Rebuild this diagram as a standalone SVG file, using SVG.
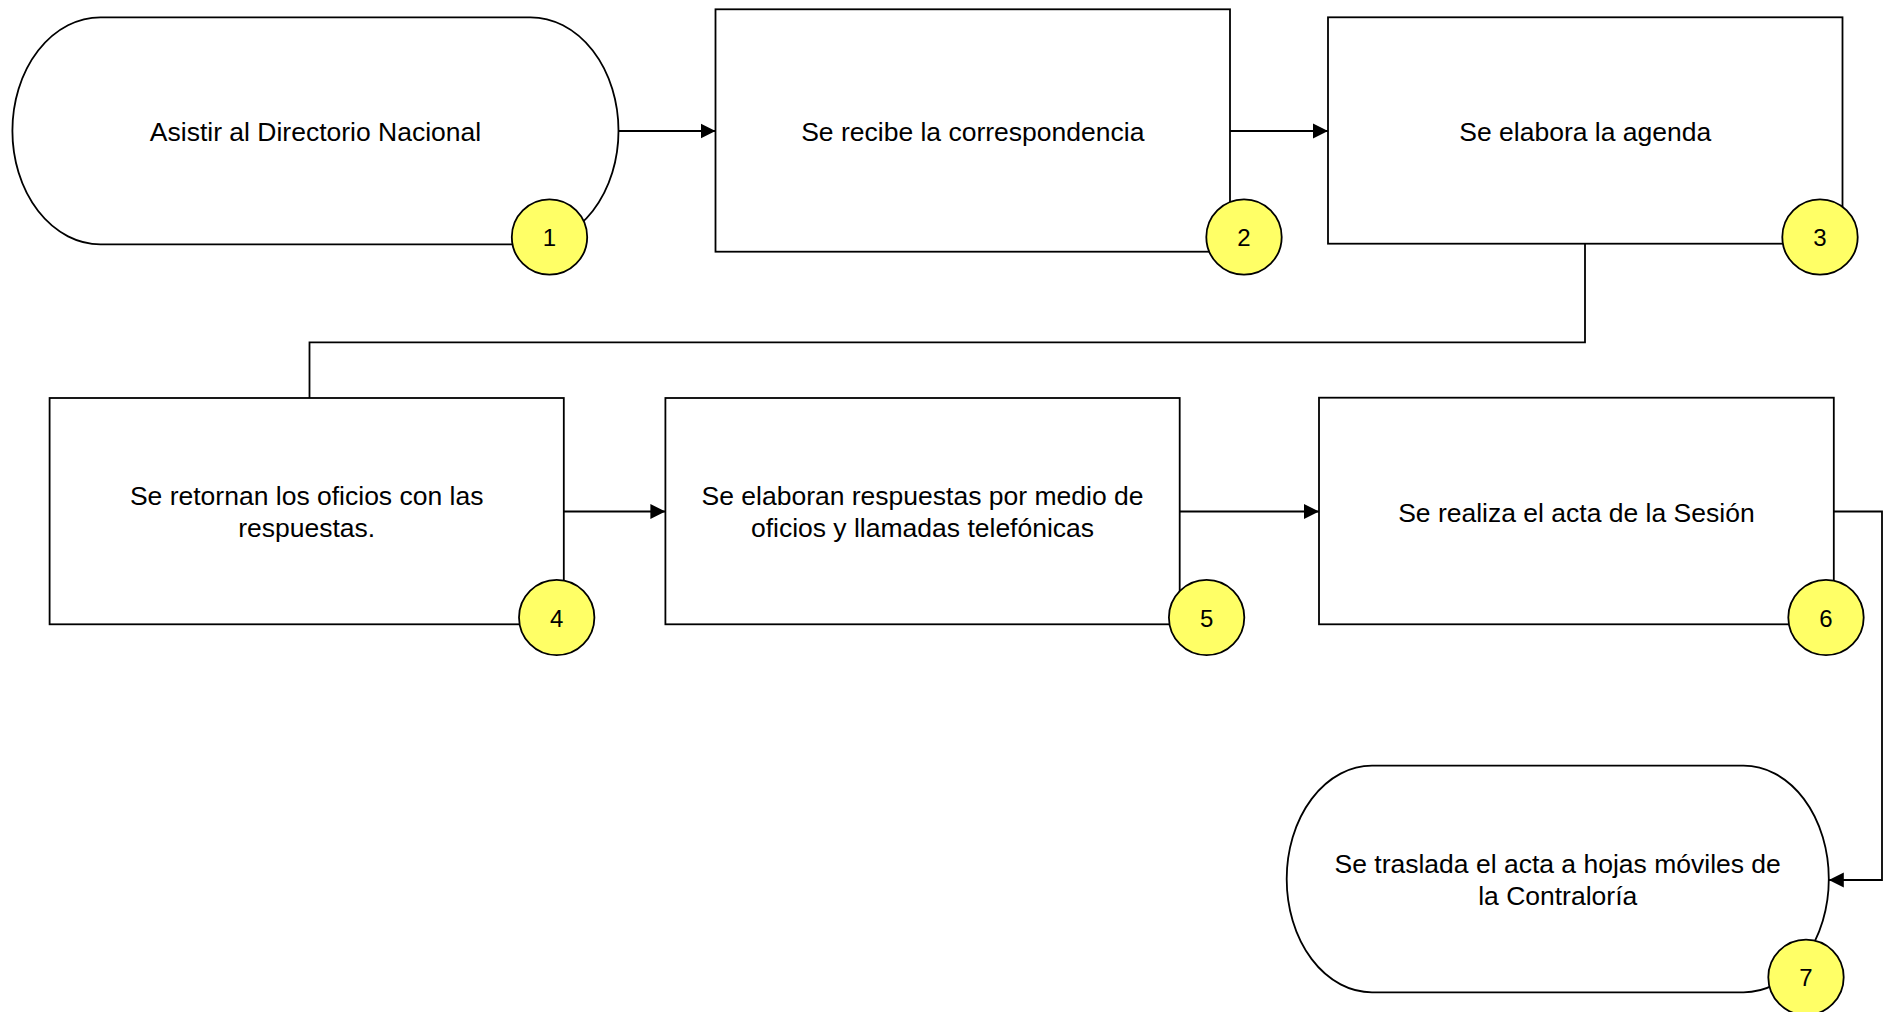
<svg xmlns="http://www.w3.org/2000/svg" width="1890" height="1012" viewBox="0 0 1890 1012">
<style>
.box{fill:#fff;stroke:#000;stroke-width:1.8}
.badge{fill:#FFFF66;stroke:#000;stroke-width:1.8}
.lbl{font-family:"Liberation Sans",Arial,sans-serif;font-size:26.5px;fill:#000;text-anchor:middle}
.num{font-family:"Liberation Sans",Arial,sans-serif;font-size:24px;fill:#000;text-anchor:middle}
.con{fill:none;stroke:#000;stroke-width:1.8}
</style>
<defs>
<marker id="arr" markerUnits="userSpaceOnUse" markerWidth="16" markerHeight="16" refX="15" refY="8" orient="auto">
<path d="M0,0.5 L15,8 L0,15.5 Z" fill="#000"/>
</marker>
</defs>
<rect width="1890" height="1012" fill="#fff"/>
<g id="connectors">
<line class="con" x1="618.5" y1="131" x2="715.5" y2="131" marker-end="url(#arr)"/>
<line class="con" x1="1230" y1="131" x2="1328" y2="131" marker-end="url(#arr)"/>
<polyline class="con" points="1585,243.7 1585,342.3 309.5,342.3 309.5,398"/>
<line class="con" x1="563.8" y1="511.5" x2="665.4" y2="511.5" marker-end="url(#arr)"/>
<line class="con" x1="1179.7" y1="511.5" x2="1319" y2="511.5" marker-end="url(#arr)"/>
<polyline class="con" points="1833.8,511.5 1882,511.5 1882,880 1828.8,880" marker-end="url(#arr)"/>
</g>
<g id="node1">
<path class="box" d="M100.4,17.3 H530.5 A88,113.5 0 0 1 530.5,244.3 H100.4 A88,113.5 0 0 1 100.4,17.3 Z"/>
<text class="lbl" x="315.5" y="141">Asistir al Directorio Nacional</text>
<circle class="badge" cx="549.5" cy="237" r="37.7"/>
<text class="num" x="549.5" y="246">1</text>
</g>
<g id="node2">
<rect class="box" x="715.5" y="9.3" width="514.5" height="242.4"/>
<text class="lbl" x="972.8" y="140.5">Se recibe la correspondencia</text>
<circle class="badge" cx="1244" cy="237" r="37.7"/>
<text class="num" x="1244" y="246">2</text>
</g>
<g id="node3">
<rect class="box" x="1328" y="17.3" width="514.5" height="226.4"/>
<text class="lbl" x="1585.3" y="140.5">Se elabora la agenda</text>
<circle class="badge" cx="1820" cy="237" r="37.7"/>
<text class="num" x="1820" y="246">3</text>
</g>
<g id="node4">
<rect class="box" x="49.6" y="398" width="514.2" height="226.3"/>
<text class="lbl" x="306.7" y="505">Se retornan los oficios con las</text>
<text class="lbl" x="306.7" y="536.7">respuestas.</text>
<circle class="badge" cx="556.7" cy="617.5" r="37.7"/>
<text class="num" x="556.7" y="626.5">4</text>
</g>
<g id="node5">
<rect class="box" x="665.4" y="398" width="514.3" height="226.3"/>
<text class="lbl" x="922.5" y="505">Se elaboran respuestas por medio de</text>
<text class="lbl" x="922.5" y="536.7">oficios y llamadas telefónicas</text>
<circle class="badge" cx="1206.6" cy="617.5" r="37.7"/>
<text class="num" x="1206.6" y="626.5">5</text>
</g>
<g id="node6">
<rect class="box" x="1319" y="397.7" width="514.8" height="226.6"/>
<text class="lbl" x="1576.4" y="521.5">Se realiza el acta de la Sesión</text>
<circle class="badge" cx="1826" cy="617.5" r="37.7"/>
<text class="num" x="1826" y="626.5">6</text>
</g>
<g id="node7">
<path class="box" d="M1372,765.7 H1743.5 A85.3,113.3 0 0 1 1743.5,992.3 H1372 A85.3,113.3 0 0 1 1372,765.7 Z"/>
<text class="lbl" x="1557.7" y="873.3">Se traslada el acta a hojas móviles de</text>
<text class="lbl" x="1557.7" y="905">la Contraloría</text>
<circle class="badge" cx="1806" cy="977.3" r="37.7"/>
<text class="num" x="1806" y="986.3">7</text>
</g>
</svg>
